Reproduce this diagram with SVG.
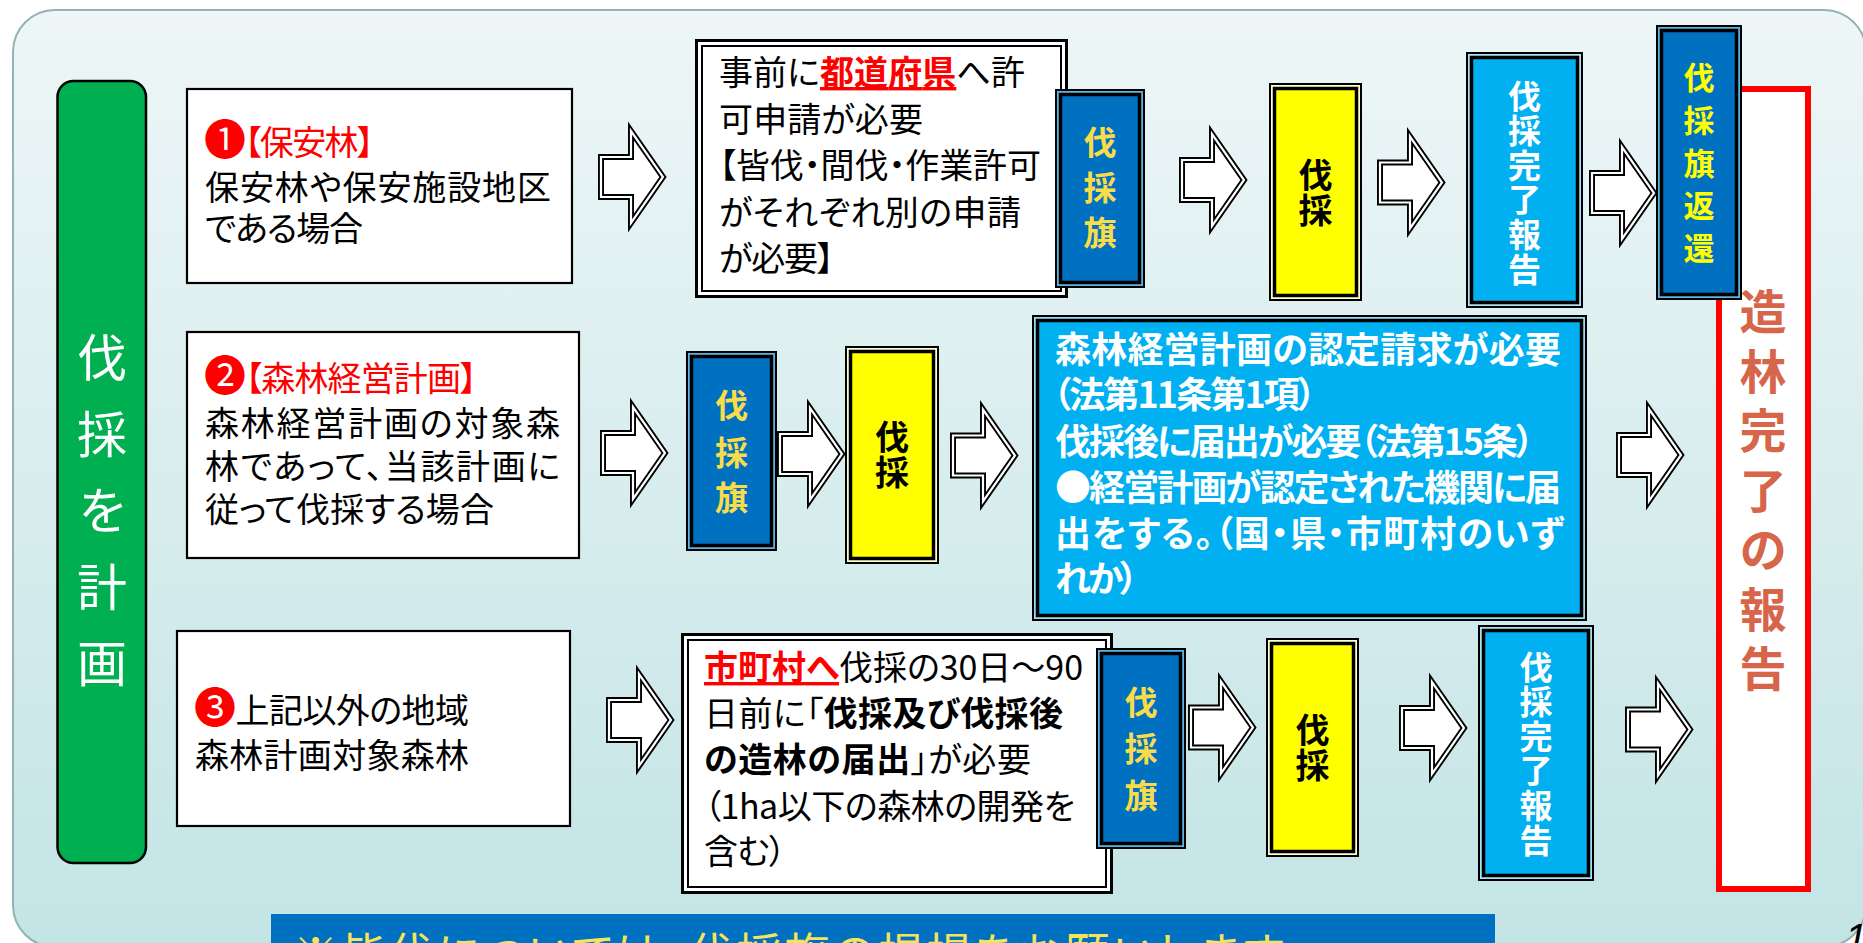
<svg xmlns="http://www.w3.org/2000/svg" width="1863" height="943" viewBox="0 0 1863 943">
<defs>
<linearGradient id="bg" x1="0" y1="0" x2="0" y2="1">
<stop offset="0" stop-color="#EEF6F7"/>
<stop offset="1" stop-color="#C3E4E5"/>
</linearGradient>
<g id="arw">
<path d="M3,-20 L33,-20 L33,-46 L65,0 L33,46 L33,20 L3,20 Z" fill="#fff" stroke="#000" stroke-width="6" stroke-linejoin="miter" stroke-miterlimit="10"/>
<path d="M3,-20 L33,-20 L33,-46 L65,0 L33,46 L33,20 L3,20 Z" fill="none" stroke="#fff" stroke-width="2.2" stroke-linejoin="miter" stroke-miterlimit="10"/>
</g>
<style>
text{font-family:"Noto Sans CJK JP","Noto Sans CJK SC",sans-serif;font-feature-settings:"palt";fill:#000;}
.f34{font-size:34px}
.f36{font-size:36px}
.num{font-size:42px}
.b{font-weight:700}
.r{fill:#FF0000}
.w{fill:#FFFFFF}
.gy{fill:#F8DC4A}
.yy{fill:#FFFF00}
.u{text-decoration:underline}
.plain{fill:#fff;stroke:#000;stroke-width:2.2}
.dbo{fill:#fff;stroke:#000;stroke-width:3}
.dbi{fill:none;stroke:#000;stroke-width:2}
.bo{stroke:#000;stroke-width:2}
.bi{stroke:#000;stroke-width:3.5}
</style>
</defs>

<rect x="0" y="0" width="1863" height="943" fill="#fff"/>
<rect x="13" y="10" width="1853" height="937" rx="42" fill="url(#bg)" stroke="#92B2B4" stroke-width="2"/>

<g id="plan">
<rect x="57.5" y="81" width="88.5" height="782" rx="16" fill="#00B050" stroke="#000" stroke-width="2.5"/>
<text class="w" font-size="50" text-anchor="middle"><tspan x="102" y="376">伐</tspan><tspan x="102" y="452.5">採</tspan><tspan x="102" y="529">を</tspan><tspan x="102" y="605.5">計</tspan><tspan x="102" y="682">画</tspan></text>
</g>

<g id="case1">
<rect class="plain" x="187" y="89" width="385" height="194"/>
<text class="f34 r" x="204" y="155" textLength="170"><tspan class="num">❶</tspan>【保安林】</text>
<text class="f34" x="205" y="199.5" textLength="346">保安林や保安施設地区</text>
<text class="f34" x="205" y="240.5" textLength="158">である場合</text>
</g>

<g id="case2">
<rect class="plain" x="187" y="332" width="392" height="226"/>
<text class="f34 r" x="204" y="391" textLength="273"><tspan class="num">❷</tspan>【森林経営計画】</text>
<text class="f34" x="205" y="435.5" textLength="355">森林経営計画の対象森</text>
<text class="f34" x="205" y="479" textLength="355">林であって、当該計画に</text>
<text class="f34" x="205" y="522" textLength="289">従って伐採する場合</text>
</g>

<g id="case3">
<rect class="plain" x="177" y="631" width="393" height="195"/>
<text class="f34" x="194" y="723" textLength="275"><tspan class="r num">❸</tspan>上記以外の地域</text>
<text class="f34" x="195" y="767.5" textLength="274">森林計画対象森林</text>
</g>

<g id="permit">
<rect class="dbo" x="696.5" y="40.5" width="370" height="256"/>
<rect class="dbi" x="702" y="46" width="359" height="245"/>
<text class="f34" x="719" y="85" textLength="306">事前に<tspan class="r b u">都道府県</tspan>へ許</text>
<text class="f34" x="719" y="131.5" textLength="204">可申請が必要</text>
<text class="f34" x="719" y="178" textLength="322">【皆伐・間伐・作業許可</text>
<text class="f34" x="719" y="224.5" textLength="302">がそれぞれ別の申請</text>
<text class="f34" x="719" y="271" textLength="115">が必要】</text>
</g>

<g id="notify">
<rect class="dbo" x="682.5" y="634.5" width="429" height="258"/>
<rect class="dbi" x="688" y="640" width="418" height="247"/>
<text class="f34" x="704" y="680" textLength="379"><tspan class="r b u">市町村へ</tspan>伐採の30日～90</text>
<text class="f34" x="704" y="725.5" textLength="359">日前に「<tspan class="b">伐採及び伐採後</tspan></text>
<text class="f34" x="704" y="772" textLength="327"><tspan class="b">の造林の届出</tspan>」が必要</text>
<text class="f34" x="704" y="819" textLength="371">（1ha以下の森林の開発を</text>
<text class="f34" x="704" y="864" textLength="82">含む）</text>
</g>

<g id="plan-approval">
<rect class="bo" x="1033" y="316" width="553" height="304" fill="#9EDDF5"/>
<rect class="bi" x="1037.5" y="320.5" width="544" height="295" fill="#00B0F0"/>
<text class="f36 b w" x="1055" y="363" textLength="506">森林経営計画の認定請求が必要</text>
<text class="f36 b w" x="1053" y="408" textLength="263">（法第11条第1項）</text>
<text class="f36 b w" x="1055" y="455" textLength="479">伐採後に届出が必要（法第15条）</text>
<text class="f36 b w" x="1055" y="501" textLength="506">●経営計画が認定された機関に届</text>
<text class="f36 b w" x="1055" y="547" textLength="509">出をする。（国・県・市町村のいず</text>
<text class="f36 b w" x="1055" y="592" textLength="83">れか）</text>
</g>

<g id="flag1">
<rect class="bo" x="1056" y="90" width="88" height="197" fill="#5BB6E6"/>
<rect class="bi" x="1060.5" y="94.5" width="79" height="188" fill="#0070C0"/>
<text class="b gy" font-size="33" text-anchor="middle"><tspan x="1100" y="154.5">伐</tspan><tspan x="1100" y="199.5">採</tspan><tspan x="1100" y="244.5">旗</tspan></text>
</g>

<g id="flag2">
<rect class="bo" x="687" y="352" width="89" height="198" fill="#5BB6E6"/>
<rect class="bi" x="691.5" y="356.5" width="80" height="189" fill="#0070C0"/>
<text class="b gy" font-size="33" text-anchor="middle"><tspan x="731.5" y="417.5">伐</tspan><tspan x="731.5" y="464.5">採</tspan><tspan x="731.5" y="509.5">旗</tspan></text>
</g>

<g id="flag3">
<rect class="bo" x="1097" y="649" width="88" height="199" fill="#5BB6E6"/>
<rect class="bi" x="1101.5" y="653.5" width="79" height="190" fill="#0070C0"/>
<text class="b gy" font-size="33" text-anchor="middle"><tspan x="1141" y="714.5">伐</tspan><tspan x="1141" y="760.5">採</tspan><tspan x="1141" y="807.5">旗</tspan></text>
</g>

<g id="cut1">
<rect class="bo" x="1270" y="84" width="91" height="216" fill="#FFFFD0"/>
<rect class="bi" x="1274.5" y="88.5" width="82" height="207" fill="#FFFF00"/>
<text class="b" font-size="34" text-anchor="middle"><tspan x="1315.5" y="188">伐</tspan><tspan x="1315.5" y="223">採</tspan></text>
</g>

<g id="cut2">
<rect class="bo" x="846" y="347" width="92" height="216" fill="#FFFFD0"/>
<rect class="bi" x="850.5" y="351.5" width="83" height="207" fill="#FFFF00"/>
<text class="b" font-size="34" text-anchor="middle"><tspan x="892" y="450">伐</tspan><tspan x="892" y="485">採</tspan></text>
</g>

<g id="cut3">
<rect class="bo" x="1267" y="639" width="91" height="217" fill="#FFFFD0"/>
<rect class="bi" x="1271.5" y="643.5" width="82" height="208" fill="#FFFF00"/>
<text class="b" font-size="34" text-anchor="middle"><tspan x="1312.5" y="743">伐</tspan><tspan x="1312.5" y="778">採</tspan></text>
</g>

<g id="report1">
<rect class="bo" x="1467" y="53" width="115" height="254" fill="#A8E2F7"/>
<rect class="bi" x="1471.5" y="57.5" width="106" height="245" fill="#00B0F0"/>
<text class="b w" font-size="33" text-anchor="middle"><tspan x="1524.5" y="108.5">伐</tspan><tspan x="1524.5" y="143">採</tspan><tspan x="1524.5" y="177.7">完</tspan><tspan x="1524.5" y="212.3">了</tspan><tspan x="1524.5" y="247">報</tspan><tspan x="1524.5" y="281.5">告</tspan></text>
</g>

<g id="report3">
<rect class="bo" x="1479" y="626" width="114" height="254" fill="#A8E2F7"/>
<rect class="bi" x="1483.5" y="630.5" width="105" height="245" fill="#00B0F0"/>
<text class="b w" font-size="33" text-anchor="middle"><tspan x="1536" y="679.5">伐</tspan><tspan x="1536" y="714.1">採</tspan><tspan x="1536" y="748.7">完</tspan><tspan x="1536" y="783.3">了</tspan><tspan x="1536" y="817.9">報</tspan><tspan x="1536" y="852.5">告</tspan></text>
</g>

<g id="complete">
<rect x="1719" y="89" width="89" height="800" fill="#fff" stroke="#FF0000" stroke-width="6"/>
<text font-size="47" font-weight="700" text-anchor="middle" style="fill:#D6654A"><tspan x="1763" y="328.5">造</tspan><tspan x="1763" y="388.5">林</tspan><tspan x="1763" y="447.5">完</tspan><tspan x="1763" y="507.5">了</tspan><tspan x="1763" y="566.5">の</tspan><tspan x="1763" y="626.5">報</tspan><tspan x="1763" y="685.5">告</tspan></text>
</g>

<g id="return">
<rect class="bo" x="1657" y="26" width="84" height="273" fill="#5BB6E6"/>
<rect class="bi" x="1661.5" y="30.5" width="75" height="264" fill="#0070C0"/>
<text class="b yy" font-size="31" text-anchor="middle"><tspan x="1699" y="88.8">伐</tspan><tspan x="1699" y="131.8">採</tspan><tspan x="1699" y="174.8">旗</tspan><tspan x="1699" y="216.8">返</tspan><tspan x="1699" y="259.8">還</tspan></text>
</g>

<g id="connectors">
<use href="#arw" x="598" y="177"/>
<use href="#arw" x="1179" y="180"/>
<use href="#arw" x="1377" y="182.5"/>
<use href="#arw" x="1589" y="193"/>
<use href="#arw" x="600" y="453"/>
<use href="#arw" x="777" y="454"/>
<use href="#arw" x="950" y="455.5"/>
<use href="#arw" x="1616" y="455"/>
<use href="#arw" x="606" y="720"/>
<use href="#arw" x="1188" y="727.5"/>
<use href="#arw" x="1399" y="728"/>
<use href="#arw" x="1625" y="729.5"/>
</g>

<g id="banner">
<rect x="271" y="914" width="1224" height="40" fill="#0070C0"/>
<text x="293" y="971" font-size="45" textLength="991" style="fill:#F5E45A">※皆伐については、伐採旗の掲揚をお願いします</text>
</g>

<text x="1845" y="952" font-size="40" font-style="italic" style="font-family:'Liberation Sans',sans-serif;fill:#000">1</text>
</svg>
